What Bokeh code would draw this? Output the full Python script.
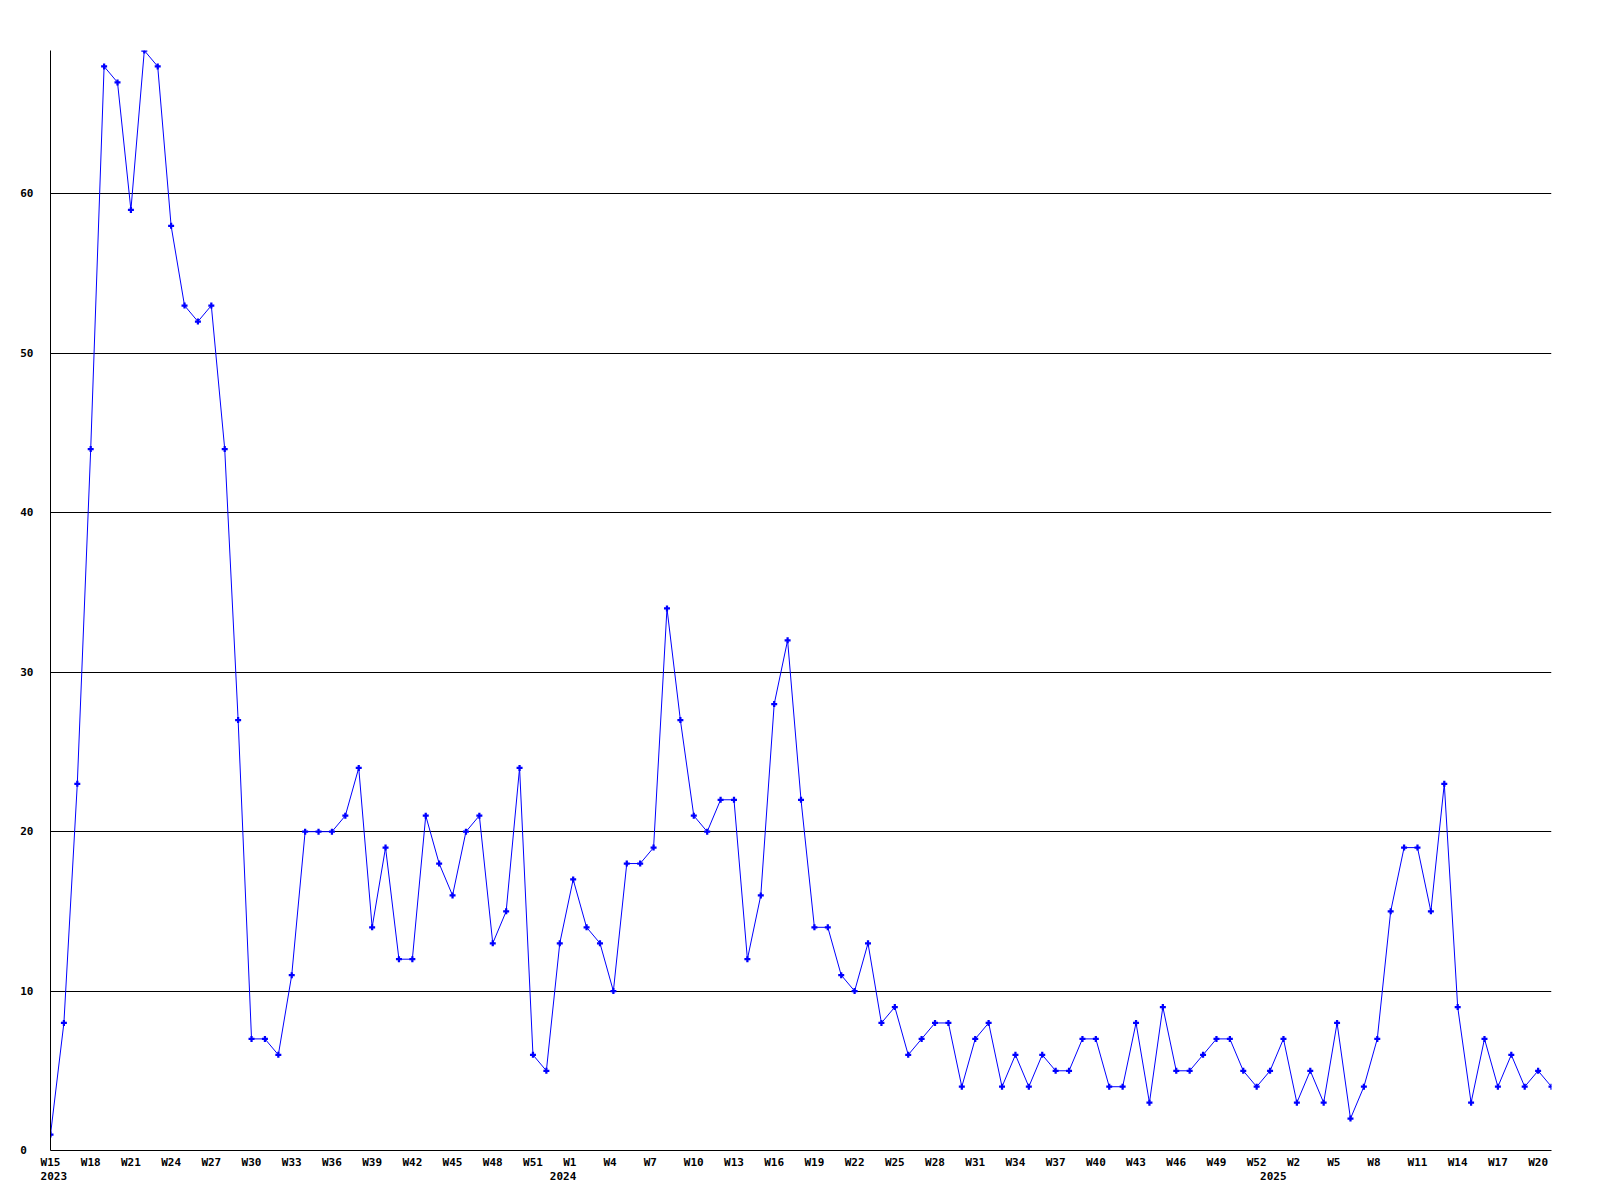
from bokeh.plotting import figure
from bokeh.models import FixedTicker, Range1d, ColumnDataSource
from bokeh.embed import file_html
from bokeh.resources import INLINE

# ---- data ----
weeks_2023 = list(range(15, 53))   # W15..W52
weeks_2024 = list(range(0, 53))    # W0..W52
weeks_2025 = list(range(0, 22))    # W0..W21
years = ["2023", "2024", "2025"]

values = [
    1, 8, 23, 44, 68, 67, 59, 69, 68, 58, 53, 52, 53, 44, 27, 7, 7, 6, 11, 20,
    20, 20, 21, 24, 14, 19, 12, 12, 21, 18, 16, 20, 21, 13, 15, 24, 6, 5, 13, 17,
    14, 13, 10, 18, 18, 19, 34, 27, 21, 20, 22, 22, 12, 16, 28, 32, 22, 14, 14, 11,
    10, 13, 8, 9, 6, 7, 8, 8, 4, 7, 8, 4, 6, 4, 6, 5, 5, 7, 7, 4,
    4, 8, 3, 9, 5, 5, 6, 7, 7, 5, 4, 5, 7, 3, 5, 3, 8, 2, 4, 7,
    15, 19, 19, 15, 23, 9, 3, 7, 4, 6, 4, 5, 4,
]
y_ticks = [0, 10, 20, 30, 40, 50, 60]

week_labels = ([f"W{w}" for w in weeks_2023] + [f"W{w}" for w in weeks_2024]
               + [f"W{w}" for w in weeks_2025])
year_start_idx = [0, len(weeks_2023), len(weeks_2023) + len(weeks_2024)]

x = list(range(len(values)))
NB = "\u00a0"

# tick labels: every 3rd week, plus the year row at each year's first week
overrides = {}
for i in range(0, len(values), 3):
    overrides[i] = week_labels[i].ljust(3, NB)
for yr, i in zip(years, year_start_idx):
    top = overrides.get(i, NB)
    overrides[i] = top + "\n" + NB + yr
ticks = sorted(overrides.keys())

y_over = {t: str(t) for t in y_ticks}
y_over[0] = "0" + NB

src = ColumnDataSource(dict(x=x, y=values))

p = figure(width=1571, height=1190,
           x_range=Range1d(0, len(values) - 1), y_range=Range1d(0, 69),
           output_backend="svg", toolbar_location=None,
           min_border_left=50, min_border_top=50, min_border_right=20,
           min_border_bottom=40)
p.outline_line_color = None
p.background_fill_color = "white"
p.border_fill_color = "white"

p.xgrid.visible = False
p.ygrid.ticker = FixedTicker(ticks=[t for t in y_ticks if t > 0])
p.ygrid.grid_line_color = "black"
p.ygrid.grid_line_alpha = 1.0
p.ygrid.grid_line_width = 1

for ax in (p.xaxis[0], p.yaxis[0]):
    ax.axis_line_color = "black"
    ax.axis_line_width = 1
    ax.major_tick_line_color = None
    ax.minor_tick_line_color = None
    ax.major_tick_out = 0
    ax.major_tick_in = 0
    ax.minor_tick_out = 0
    ax.major_label_text_font = "DejaVu Sans Mono"
    ax.major_label_text_font_style = "bold"
    ax.major_label_text_font_size = "11px"
    ax.major_label_text_color = "black"

p.xaxis[0].ticker = FixedTicker(ticks=ticks)
p.xaxis[0].major_label_overrides = overrides
p.xaxis[0].major_label_standoff = 5
p.xaxis[0].major_label_text_line_height = 1.12

p.yaxis[0].ticker = FixedTicker(ticks=y_ticks)
p.yaxis[0].major_label_overrides = y_over
p.yaxis[0].major_label_standoff = 17

p.line("x", "y", source=src, line_color="#0000ff", line_width=1)
p.scatter("x", "y", source=src, marker="plus", size=6,
          fill_color="#0000ff", line_color="#0000ff", line_width=0)

open("out.html", "w").write(file_html(p, INLINE))
